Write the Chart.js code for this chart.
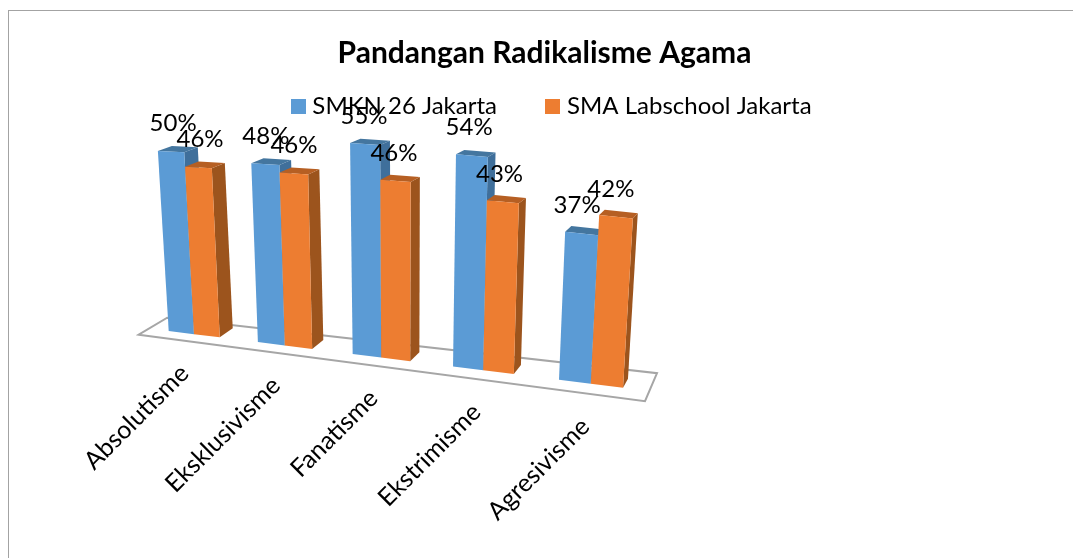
<!DOCTYPE html>
<html>
<head>
<meta charset="utf-8">
<script src="https://cdn.jsdelivr.net/npm/chart.js@4/dist/chart.umd.min.js"></script>
<style>
    html, body { margin: 0; padding: 0; background: #fff; overflow: hidden; }
    #frame { position: fixed; left: 8px; top: 10px; width: 1100px; height: 600px; border: 1px solid #a3a3a3; box-shadow: -1px 0 0 #e4e4e4 inset; }
    #typeChart { position: fixed; left: 0; top: 0; }
</style>
</head>
<body>
<div id="frame"></div>
<canvas id="typeChart" width="1073" height="558"></canvas>
<script>
const categories = ['Absolutisme', 'Eksklusivisme', 'Fanatisme', 'Ekstrimisme', 'Agresivisme'];
const smknValues = [50, 48, 55, 54, 37];
const labschoolValues = [46, 46, 46, 43, 42];

const blue = { front: '#5b9bd5', side: '#3f6f9b', top: '#44769f' };
const orange = { front: '#ed7d31', side: '#9c541d', top: '#b65f23' };

// Perspective of the old 3D column chart: category index -> screen x,
// base line sloping down to the right, columns fanning out going up
function screenX(i) { return 194 + 88 * i + 2.8 * i * i; }
function baseY(x) { return 331 + 0.125 * (x - 169); }
function unitHeight(x) {
    const d = x - 169;
    return 3.6 + 0.001514 * d - 0.000001256 * d * d;
}

function project(i, value) {
    const x = screenX(i);
    const h = value * unitHeight(x);
    return { x: x + (x - 400) * 0.00026 * h, y: baseY(x) - h, bx: x, h: h };
}

function depth(p) {
    return { x: 13 - (p.bx - 219) * 0.02, y: -9 + p.h * 0.022 };
}

function poly(ctx, points, color) {
    ctx.beginPath();
    points.forEach((p, n) => n ? ctx.lineTo(p.x, p.y) : ctx.moveTo(p.x, p.y));
    ctx.closePath();
    ctx.fillStyle = color;
    ctx.fill();
}

function shift(p, d) { return { x: p.x + d.x, y: p.y + d.y }; }

function drawColumn(ctx, i0, i1, value, colors) {
    const bl = project(i0, 0), br = project(i1, 0);
    const tl = project(i0, value), tr = project(i1, value);
    poly(ctx, [br, tr, shift(tr, depth(tr)), shift(br, depth(br))], colors.side);
    poly(ctx, [tl, tr, shift(tr, depth(tr)), shift(tl, depth(tl))], colors.top);
    poly(ctx, [bl, br, tr, tl], colors.front);
}

function drawFloor(ctx, left, right) {
    const a = project(left, 0), b = project(right, 0);
    const pts = [
        { x: a.bx - 12, y: a.y + 6 },
        { x: b.bx - 1.7, y: b.y + 10.5 },
        { x: b.bx + 10.3, y: b.y - 17.5 },
        { x: a.bx + 16.5, y: a.y - 11 }
    ];
    ctx.beginPath();
    pts.forEach((p, n) => n ? ctx.lineTo(p.x, p.y) : ctx.moveTo(p.x, p.y));
    ctx.closePath();
    ctx.strokeStyle = '#a6a6a6';
    ctx.lineWidth = 2;
    ctx.stroke();
}

// legend swatch as a small canvas, so the gap to the text can be narrower than the default
function swatch(color) {
    const c = document.createElement('canvas');
    c.width = 15;
    c.height = 15;
    const g = c.getContext('2d');
    g.fillStyle = color;
    g.fillRect(0, 0, 15, 15);
    return c;
}

const perspective3d = {
    id: 'perspective3d',
    beforeDraw(chart) {
        // slide legend to its place and hang the tick labels under the sloping floor
        chart.legend.left = 17;
        chart.legend.right = 1091;
        chart.legend.top = 40;
        const xs = chart.scales.x;
        xs.top = 300; // the scale clips its labels to its own box
        xs.bottom = 558;
        xs.getLabelItems(chart.chartArea).forEach((item, i) => {
            const x = screenX(i);
            item.options.translation = [x - 16 + (x - 600) * 0.01, baseY(x) + 24.5 + (x - 194) * 0.009];
        });
    },
    beforeDatasetsDraw(chart) {
        const ctx = chart.ctx;
        const xs = chart.scales.x, ys = chart.scales.y;
        const step = xs.getPixelForValue(1) - xs.getPixelForValue(0);
        const toIndex = px => (px - xs.getPixelForValue(0)) / step;
        ctx.save();
        drawFloor(ctx, -0.5, categories.length - 0.5);
        const labels = [];
        categories.forEach((c, n) => {
            chart.data.datasets.forEach((ds, d) => {
                const bar = chart.getDatasetMeta(d).data[n];
                const value = ys.getValueForPixel(bar.y);
                const i0 = toIndex(bar.x - bar.width / 2), i1 = toIndex(bar.x + bar.width / 2);
                drawColumn(ctx, i0, i1, value, d === 0 ? blue : orange);
                const p = project((i0 + i1) / 2, value);
                labels.push({ text: ds.data[n] + '%', x: p.x + 2 - (p.x - 175) * 0.016, y: p.y - 28 });
            });
        });
        ctx.font = '24px Lato';
        ctx.fillStyle = '#000';
        ctx.textAlign = 'center';
        ctx.textBaseline = 'middle';
        labels.forEach(l => ctx.fillText(l.text, l.x, l.y));
        ctx.restore();
        return false; // columns are painted above, from the bar elements
    }
};

new Chart(document.getElementById('typeChart'), {
    type: 'bar',
    data: {
        labels: categories,
        datasets: [
            { label: 'SMKN 26 Jakarta', data: smknValues, backgroundColor: blue.front },
            { label: 'SMA Labschool Jakarta', data: labschoolValues, backgroundColor: orange.front }
        ]
    },
    options: {
        responsive: false,
        animation: false,
        categoryPercentage: 0.58,
        barPercentage: 1,
        layout: { padding: { left: 16 } },
        scales: {
            x: {
                grid: { display: false },
                border: { display: false },
                ticks: { color: '#000', font: { family: 'Lato', size: 25 }, minRotation: 45, maxRotation: 45 }
            },
            y: { display: false, min: 0, max: 60 }
        },
        plugins: {
            title: {
                display: true,
                text: 'Pandangan Radikalisme Agama',
                color: '#000',
                font: { family: 'Lato', size: 30, weight: 'bold' },
                padding: { top: 35, bottom: 0 }
            },
            legend: {
                labels: {
                    color: '#000',
                    font: { family: 'Lato', size: 24 },
                    usePointStyle: true,
                    pointStyleWidth: 4,
                    boxHeight: 15,
                    padding: 54,
                    generateLabels(chart) {
                        const items = Chart.defaults.plugins.legend.labels.generateLabels(chart);
                        items.forEach(item => { item.pointStyle = swatch(item.fillStyle); });
                        return items;
                    }
                }
            },
            tooltip: { enabled: false }
        }
    },
    plugins: [perspective3d]
});
</script>
</body>
</html>
